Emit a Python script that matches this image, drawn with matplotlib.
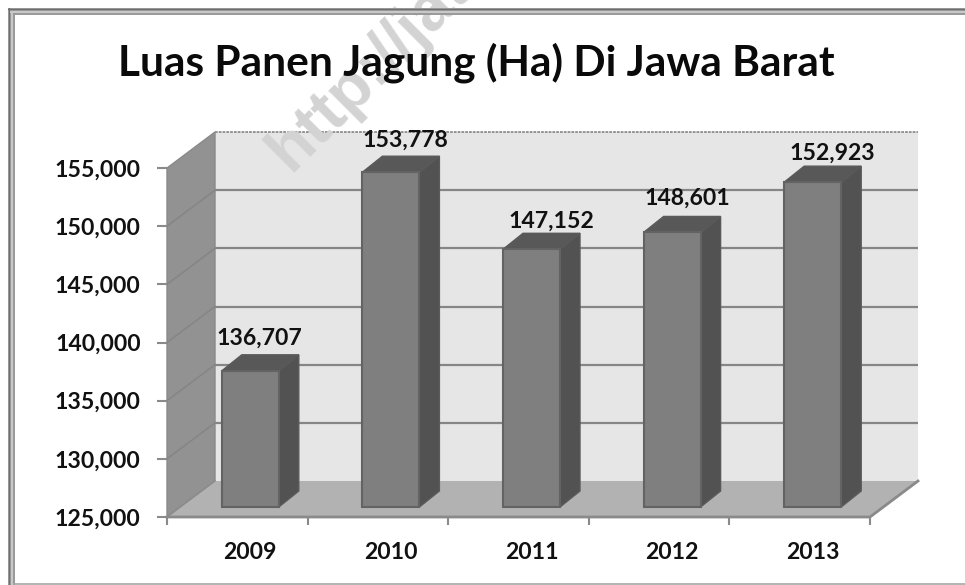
import matplotlib
matplotlib.use("Agg")
import matplotlib.pyplot as plt
from matplotlib.patches import Polygon, Rectangle
from matplotlib.lines import Line2D
from matplotlib.ticker import FuncFormatter

years = ["2009", "2010", "2011", "2012", "2013"]
luas_panen = [136707, 153778, 147152, 148601, 152923]
y_ticks = [125000, 130000, 135000, 140000, 145000, 150000, 155000]
title = "Luas Panen Jagung (Ha) Di Jawa Barat"
watermark = "http://jateng"

label_dx = [9, 14, 20, 15, 20]
label_dy = [33, 32, 28, 34, 29]

W, H = 965, 585
L, R, T, B = 167, 870, 168, 517
fig = plt.figure(figsize=(W / 100, H / 100), dpi=100, facecolor="white")
ax = fig.add_axes([L / W, 1 - B / H, (R - L) / W, (B - T) / H])
ax.set_xlim(-0.5, 4.5)
ax.set_ylim(125000, 155000)
ax.patch.set_visible(False)
for s in ax.spines.values():
    s.set_visible(False)

px = 5 / (R - L)
py = 30000 / (B - T)
DX, DY = 48 * px, 36 * py
x0, x1 = -0.5, 4.5
y0, y1 = y_ticks[0], y_ticks[-1]
GRID = "#868686"

# walls and floor
ax.add_patch(Polygon([(x0 + DX, y0 + DY), (x1 + DX, y0 + DY), (x1 + DX, y1 + DY), (x0 + DX, y1 + DY)],
                     fc="#e6e6e6", ec="none", zorder=1, clip_on=False))
ax.add_patch(Polygon([(x0, y0), (x0 + DX, y0 + DY), (x0 + DX, y1 + DY), (x0, y1)],
                     fc="#929292", ec="#8a8a8a", lw=1, zorder=1.2, clip_on=False))
ax.add_patch(Polygon([(x0, y0), (x1, y0), (x1 + DX, y0 + DY), (x0 + DX, y0 + DY)],
                     fc="#b2b2b2", ec="none", zorder=1.3, clip_on=False))
for v in y_ticks[1:-1]:
    ax.plot([x0 + DX, x1 + DX], [v + DY, v + DY], color=GRID, lw=1.6, zorder=1.1, clip_on=False,
            solid_capstyle="butt")
    ax.plot([x0, x0 + DX], [v, v + DY], color="#858585", lw=1.1, zorder=1.25, clip_on=False)
ax.plot([x0 + DX, x1 + DX], [y1 + DY, y1 + DY], color="#8c8c8c", lw=1.3, ls=(0, (1.5, 0.6)),
        zorder=1.1, clip_on=False)
ax.plot([x0, x1, x1 + DX], [y0, y0, y0 + DY], color="#8a8a8a", lw=2, zorder=1.4, clip_on=False)
ax.plot([x0, x0 + DX], [y0, y0 + DY], color="#8a8a8a", lw=1, zorder=1.4, clip_on=False)

# watermark
ax.text(x0 + (290 - L) * px, y0 + (B - 173) * py, watermark, rotation=45, rotation_mode="anchor",
        ha="left", va="baseline", fontsize=47, fontweight="bold", family="Liberation Sans",
        color="#d3d3d3", zorder=1.15, clip_on=False)

# bars
BW = 57 * px
XO, YO = 13 * px, 10 * py
dx, dy = 20 * px, 16 * py
base = y0 + YO
centers = [i + XO for i in range(len(years))]
heights = [v - y0 for v in luas_panen]
ax.bar(centers, heights, width=BW, bottom=base, color="#7f7f7f", edgecolor="#636363",
       linewidth=1.5, zorder=3, clip_on=False)
for c, h, v in zip(centers, heights, luas_panen):
    l, r = c - BW / 2, c + BW / 2
    top = base + h
    ax.add_patch(Polygon([(r, base), (r + dx, base + dy), (r + dx, top + dy), (r, top)],
                         fc="#525252", ec="#5a5a5a", lw=1, zorder=2.9, clip_on=False))
    ax.add_patch(Polygon([(l, top), (r, top), (r + dx, top + dy), (l + dx, top + dy)],
                         fc="#585858", ec="#5a5a5a", lw=1, zorder=2.9, clip_on=False))

# data labels
for c, h, v, ox, oy in zip(centers, heights, luas_panen, label_dx, label_dy):
    ax.annotate(f"{v:,}", (c, base + h), xytext=(ox * 0.72, oy * 0.72), textcoords="offset points",
                ha="center", va="center", fontsize=16.6, fontweight="bold", family="Lato",
                color="#111111", zorder=5, annotation_clip=False)

# ticks
ax.set_yticks(y_ticks)
ax.yaxis.set_major_formatter(FuncFormatter(lambda v, _: f"{int(v):,}"))
ax.set_xticks(centers)
ax.set_xticklabels(years)
ax.set_xticks([i - 0.5 for i in range(len(years) + 1)], minor=True)
ax.tick_params(axis="y", length=7, width=1.5, color="#8a8a8a", pad=12, labelsize=16.6, labelcolor="#111111")
ax.tick_params(axis="x", which="major", length=0, pad=18, labelsize=16.6, labelcolor="#111111")
ax.tick_params(axis="x", which="minor", length=6, width=1.5, color="#8a8a8a")
for t in ax.get_xticklabels() + ax.get_yticklabels():
    t.set_fontfamily("Lato")
    t.set_fontweight("bold")

fig.text(476.5 / W, 1 - 63 / H, title, ha="center", va="center", fontsize=30.5, fontweight="bold",
         family="Lato", color="#0a0a0a", zorder=6)

# outer frame
tf = fig.transFigure
fig.add_artist(Rectangle((8 / W, 1 - 14.5 / H), 1, 6.5 / H, transform=tf, fc="#9a9a9a", ec="none", zorder=8))
fig.add_artist(Rectangle((8 / W, 0), 6.5 / W, 1 - 8 / H, transform=tf, fc="#9a9a9a", ec="none", zorder=8))
fig.add_artist(Line2D([8 / W, 1], [1 - 8.5 / H] * 2, transform=tf, color="#6e6e6e", lw=0.8, zorder=9))
fig.add_artist(Line2D([8.5 / W] * 2, [0, 1 - 8 / H], transform=tf, color="#6e6e6e", lw=0.8, zorder=9))
fig.add_artist(Rectangle((9.5 / W, 1 - 12.5 / H), 1, 2 / H, transform=tf, fc="#c8c8c8", ec="none", zorder=9))
fig.add_artist(Rectangle((10.5 / W, 0), 2 / W, 1 - 11 / H, transform=tf, fc="#c8c8c8", ec="none", zorder=9))
fig.add_artist(Line2D([14 / W, 1], [1 - 583.5 / H] * 2, transform=tf, color="#a5a5a5", lw=1.2, zorder=9))

fig.savefig("out.png", dpi=100, facecolor="white")
